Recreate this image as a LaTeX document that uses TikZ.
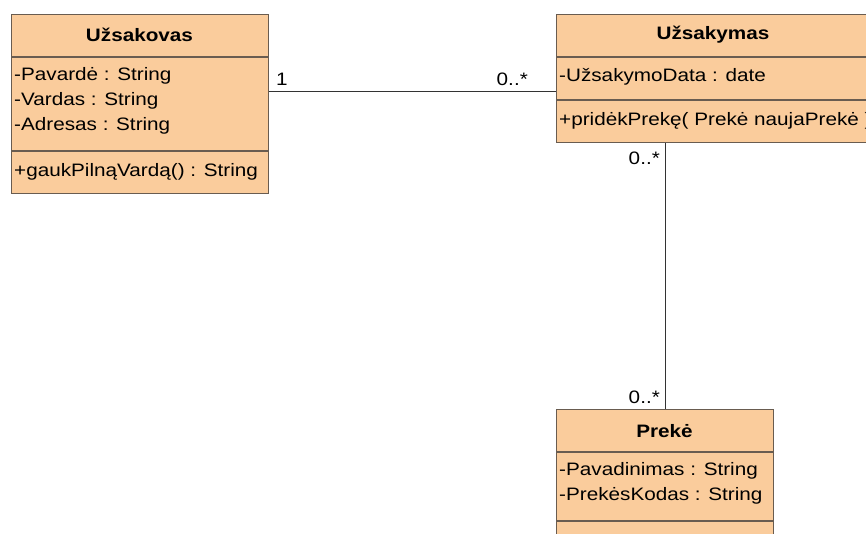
\documentclass[tikz,border=0pt]{standalone}
\usepackage{fontspec}
\setmainfont{Liberation Sans}[FakeStretch=1.15]
\definecolor{classfill}{RGB}{250,204,156}
\definecolor{classedge}{RGB}{105,92,80}
\begin{document}
\begin{tikzpicture}[x=1pt,y=-1pt,
  classbox/.style={draw=classedge,fill=classfill,line width=1.3pt,rectangle,inner sep=0pt,anchor=north west},
  sep/.style={draw=classedge,line width=1.3pt},
  title/.style={font=\fontsize{18}{22}\selectfont\bfseries,inner sep=0pt},
  member/.style={font=\fontsize{18}{22}\selectfont,inner sep=0pt,anchor=west},
  mult/.style={font=\fontsize{18}{22}\selectfont,inner sep=0pt},
  assoc/.style={draw=black!80,line width=1pt}]
\useasboundingbox (0,0) rectangle (866,533);
\clip (0,0) rectangle (866,533);

% class Užsakovas
\node[classbox,minimum width=257pt,minimum height=179pt] (kl) at (11,14) {};
\draw[sep] (11,57) -- (268,57);
\draw[sep] (11,151) -- (268,151);
\node[title] (klT) at (139.5,35) {Užsakovas};
\node[member] (kl1) at (14,76) {-Pavardė : String};
\node[member] (kl2) at (14,101) {-Vardas : String};
\node[member] (kl3) at (14,126) {-Adresas : String};
\node[member] (kl4) at (14,172) {+gaukPilnąVardą() : String};

% class Užsakymas
\node[classbox,minimum width=314pt,minimum height=128pt] (us) at (556,14) {};
\draw[sep] (556,57) -- (870,57);
\draw[sep] (556,100) -- (870,100);
\node[title] (usT) at (713,35) {Užsakymas};
\node[member] (us1) at (559,77) {-UžsakymoData : date};
\node[member] (us2) at (559,121) {+pridėkPrekę( Prekė naujaPrekė )};

% class Prekė
\node[classbox,minimum width=217pt,minimum height=160pt] (pr) at (556,409) {};
\draw[sep] (556,452) -- (773,452);
\draw[sep] (556,521) -- (773,521);
\node[title] (prT) at (664.5,431) {Prekė};
\node[member] (pr1) at (559,471) {-Pavadinimas : String};
\node[member] (pr2) at (559,496) {-PrekėsKodas : String};

% associations
\coordinate (rowA) at (0,91);
\draw[assoc] (kl.east |- rowA) -- (us.west |- rowA);
\draw[assoc] (pr.north) -- (pr.north |- us.south);

% multiplicities
\node[mult,anchor=base west] (m1) at (276,85) {1};
\node[mult,anchor=base east] (m2) at (528,85) {0..*};
\node[mult,anchor=base east] (m3) at (660,164) {0..*};
\node[mult,anchor=base east] (m4) at (660,403) {0..*};
\end{tikzpicture}
\end{document}
